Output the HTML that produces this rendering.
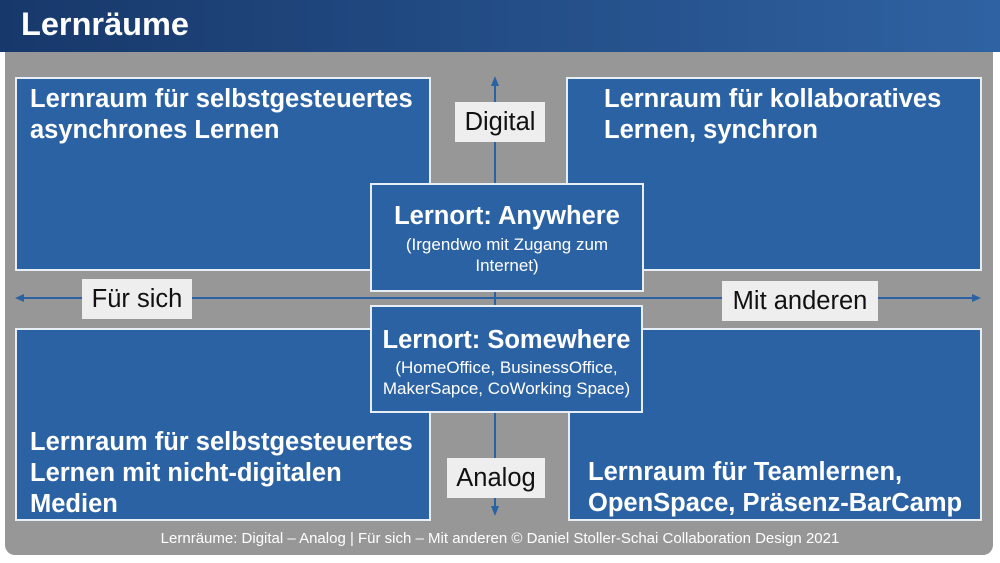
<!DOCTYPE html>
<html><head><meta charset="utf-8"><style>
body{margin:0;width:1000px;height:563px;background:#fff;position:relative;overflow:hidden;font-family:"Liberation Sans",Arial,sans-serif}
.hdr{position:absolute;left:0;top:0;width:1000px;height:52px;background:linear-gradient(90deg,#17386a,#2f62a2)}
.hdr span{position:absolute;left:21px;top:6px;font-size:32.5px;font-weight:bold;color:#fff}
.panel{position:absolute;left:5px;top:52px;width:988px;height:503px;background:#979797;border-radius:0 0 10px 10px}
.b{position:absolute;background:#2b62a3;border:2px solid #e8eef6;box-sizing:border-box;color:#fff;white-space:nowrap}
.q{font-weight:bold;font-size:25.5px;line-height:31px;padding:0 0 0 13px}
.c{text-align:center}
.c .t{font-weight:bold;font-size:25.5px;margin-top:17px}
.c .s{font-size:17px;line-height:21px;margin-top:3px}
.l{position:absolute;background:#eeeeee;color:#111;font-size:25.5px;text-align:center;line-height:40px}
.foot{position:absolute;left:0;width:1000px;top:530px;text-align:center;color:#fff;font-size:15px}
</style></head><body>
<div class="hdr"><span>Lernräume</span></div>
<div class="panel"></div>
<div class="b q" style="left:15px;top:77px;width:416px;height:194px;padding-top:5px">Lernraum für selbstgesteuertes<br>asynchrones Lernen</div>
<div class="b q" style="left:566px;top:77px;width:416px;height:194px;padding:5px 0 0 36px">Lernraum für kollaboratives<br>Lernen, synchron</div>
<div class="b q" style="left:15px;top:328px;width:416px;height:193px;padding-top:97px">Lernraum für selbstgesteuertes<br>Lernen mit nicht-digitalen<br>Medien</div>
<div class="b q" style="left:568px;top:328px;width:414px;height:193px;padding:127px 0 0 18px">Lernraum für Teamlernen,<br>OpenSpace, Präsenz-BarCamp</div>
<svg style="position:absolute;left:0;top:0" width="1000" height="563">
<line x1="22" y1="298" x2="974" y2="298" stroke="#2b62a3" stroke-width="2"/>
<polygon points="15,298 24,294 24,302" fill="#2b62a3"/>
<polygon points="981,298 972,294 972,302" fill="#2b62a3"/>
<line x1="495" y1="84" x2="495" y2="508" stroke="#2b62a3" stroke-width="2"/>
<polygon points="495,76 491,86 499,86" fill="#2b62a3"/>
<polygon points="495,516 491,506 499,506" fill="#2b62a3"/>
</svg>
<div class="l" style="left:455px;top:102px;width:90px">Digital</div>
<div class="l" style="left:82px;top:279px;width:110px">Für sich</div>
<div class="l" style="left:722px;top:281px;width:156px">Mit anderen</div>
<div class="l" style="left:447px;top:458px;width:98px">Analog</div>
<div class="b c" style="left:370px;top:183px;width:274px;height:109px"><div class="t">Lernort: Anywhere</div><div class="s">(Irgendwo mit Zugang zum<br>Internet)</div></div>
<div class="b c" style="left:370px;top:305px;width:273px;height:108px"><div class="t" style="margin-top:19px">Lernort: Somewhere</div><div class="s" style="margin-top:2px">(HomeOffice, BusinessOffice,<br>MakerSapce, CoWorking Space)</div></div>
<div class="foot">Lernräume: Digital – Analog | Für sich – Mit anderen © Daniel Stoller-Schai Collaboration Design 2021</div>
</body></html>
